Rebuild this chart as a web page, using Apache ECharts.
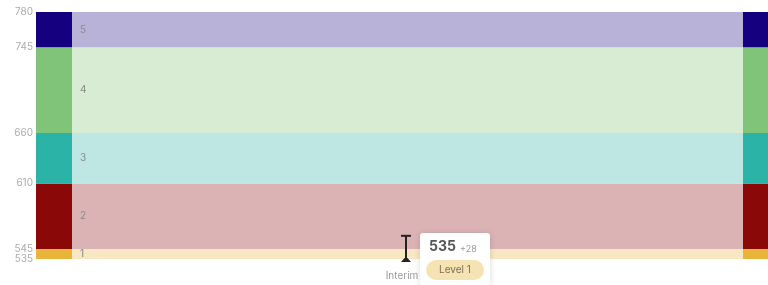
<!DOCTYPE html>
<html><head><meta charset="utf-8">
<script src="https://cdn.jsdelivr.net/npm/echarts@6/dist/echarts.min.js"></script>
<style>html,body{margin:0;padding:0;background:#fff}#c{width:768px;height:285px}</style>
</head><body><div id="c"></div>
<script>
const categories = ["Interim"];
const bandLow = [535, 545, 610, 660, 745];
const bandHigh = [545, 610, 660, 745, 780];
const bandNames = ["1", "2", "3", "4", "5"];
const bandStrong = ["#e8b43a", "#8b0808", "#2cb3a8", "#80c47a", "#15007f"];
const bandLight = ["#f7e7c3", "#dbb3b4", "#bee7e3", "#d8ecd4", "#b8b1d8"];
const yTicks = [535, 545, 610, 660, 745, 780];
const scoreValue = [535];
const scoreLow = [532];
const scoreHigh = [558];
const scoreDelta = ["+28"];
const scoreLevel = ["Level 1"];

const FONT = "Inter";
const chart = echarts.init(document.getElementById('c'), null, {renderer: 'canvas'});

const bandData = bandLow.map((l, i) => [0, l, bandHigh[i], i]);
const markData = scoreValue.map((v, i) => [i, v, scoreLow[i], scoreHigh[i], i]);

chart.setOption({
  animation: false,
  grid: {left: 36, right: 0, top: 12, bottom: 26},
  xAxis: {
    type: 'category', data: categories,
    axisLine: {show: false}, axisTick: {show: false},
    axisLabel: {color: '#9a9a9a', fontSize: 10, fontFamily: FONT, margin: 12}
  },
  yAxis: {
    type: 'value', min: 535, max: 780,
    splitLine: {show: false}, axisLine: {show: false}, axisTick: {show: false},
    axisLabel: {customValues: yTicks, color: '#ababab', fontSize: 10, fontFamily: FONT, margin: 3}
  },
  series: [
    {
      type: 'custom', data: bandData, clip: false, z: 1,
      renderItem: function (params, api) {
        const cs = params.coordSys;
        const yTop = api.coord([0, api.value(2)])[1];
        const yBot = api.coord([0, api.value(1)])[1];
        const i = api.value(3);
        const leftW = 36, rightW = 25;
        return {
          type: 'group',
          children: [
            {type: 'rect', shape: {x: cs.x, y: yTop, width: leftW, height: yBot - yTop}, style: {fill: bandStrong[i]}},
            {type: 'rect', shape: {x: cs.x + leftW, y: yTop, width: cs.width - leftW - rightW, height: yBot - yTop}, style: {fill: bandLight[i]}},
            {type: 'rect', shape: {x: cs.x + cs.width - rightW, y: yTop, width: rightW, height: yBot - yTop}, style: {fill: bandStrong[i]}},
            {type: 'text', x: cs.x + leftW + 8, y: (yTop + yBot) / 2,
              style: {text: bandNames[i], fill: '#8a8a8a', fontSize: 10, fontFamily: FONT, verticalAlign: 'middle', align: 'left'}}
          ]
        };
      }
    },
    {
      type: 'custom', data: markData, clip: false, z: 10,
      renderItem: function (params, api) {
        const i = api.value(4);
        const p = api.coord([api.value(0), api.value(1)]);
        const pt = api.coord([api.value(0), api.value(3)]);
        const pb = api.coord([api.value(0), api.value(2)]);
        const x = p[0] + 4;
        const bx = x + 14, by = p[1] - 26;
        return {
          type: 'group',
          children: [
            {type: 'line', shape: {x1: x, y1: pt[1], x2: x, y2: pb[1]}, style: {stroke: '#222', lineWidth: 2}},
            {type: 'line', shape: {x1: x - 5, y1: pt[1], x2: x + 5, y2: pt[1]}, style: {stroke: '#222', lineWidth: 2}},
            {type: 'polygon', shape: {points: [[x - 5, pb[1]], [x + 5, pb[1]], [x + 1.5, pb[1] - 4], [x - 1.5, pb[1] - 4]]}, style: {fill: '#222'}},
            {type: 'rect', shape: {x: bx, y: by, width: 70, height: 52, r: 3},
              style: {fill: '#fff', shadowBlur: 6, shadowColor: 'rgba(0,0,0,0.15)', shadowOffsetY: 1}},
            {type: 'text', x: bx + 9, y: by + 14,
              style: {text: String(api.value(1)), fill: '#555', fontSize: 14, fontWeight: 'bold', fontFamily: FONT, verticalAlign: 'middle'}},
            {type: 'text', x: bx + 40, y: by + 16,
              style: {text: scoreDelta[i], fill: '#9a9a9a', fontSize: 9, fontFamily: FONT, verticalAlign: 'middle'}},
            {type: 'rect', shape: {x: bx + 6, y: by + 27, width: 58, height: 20, r: 10}, style: {fill: '#f6e3b4'}},
            {type: 'text', x: bx + 35, y: by + 37,
              style: {text: scoreLevel[i], fill: '#7d6f52', fontSize: 10, fontFamily: FONT, align: 'center', verticalAlign: 'middle'}}
          ]
        };
      }
    }
  ]
});
</script></body></html>
